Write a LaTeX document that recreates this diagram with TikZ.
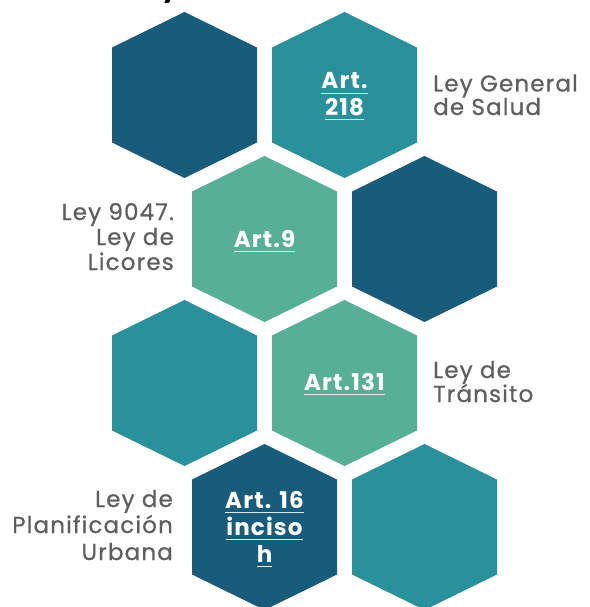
\documentclass[tikz,border=0pt]{standalone}
\usepackage{fontspec}
\setmainfont{Poppins}
\newfontfamily\labfont[LetterSpace=5,FakeBold=0.6]{Poppins}
\newfontfamily\artfont[LetterSpace=5]{Poppins}
\definecolor{hexdark}{HTML}{185B7A}
\definecolor{hexteal}{HTML}{29919C}
\definecolor{hexgreen}{HTML}{58B094}
\definecolor{labgray}{HTML}{5E5E5E}
\definecolor{ulc}{HTML}{D8ECEC}
\newcommand\hexfill[3]{\fill[#3] (#1,#2) ++(0,-83) -- ++(72.5,35.5) -- ++(0,95) -- ++(-72.5,35.5) -- ++(-72.5,-35.5) -- ++(0,-95) -- cycle;}
\newcommand\ulart[1]{\setbox0\hbox{#1}\rlap{\usebox0}\textcolor{ulc}{\rule[-5pt]{\wd0}{1.2pt}}}
\tikzset{
  lab/.style={text=labgray, font=\labfont\fontsize{23}{25}\selectfont, inner sep=0pt},
  art/.style={text=white, font=\artfont\fontsize{23}{25}\selectfont\bfseries, inner sep=0pt, anchor=base},
}
\begin{document}
\begin{tikzpicture}[x=1pt,y=-1pt]
\useasboundingbox (0,0) rectangle (589,607);
\fill[white] (0,0) rectangle (589,607);
\node[anchor=base, font=\fontsize{26}{26}\selectfont\bfseries, inner sep=0pt] (title) at (170,-3) {y};
% hexagons
\hexfill{184.5}{95}{hexdark}
\hexfill{344.5}{95}{hexteal}
\hexfill{264.5}{239}{hexgreen}
\hexfill{424.5}{239}{hexdark}
\hexfill{184.5}{383}{hexteal}
\hexfill{344.5}{383}{hexgreen}
\hexfill{264.5}{527}{hexdark}
\hexfill{424.5}{527}{hexteal}
% white labels
\node[art] (a218a) at (344.5,89) {\ulart{Art.}};
\node[art] (a218b) at (344.5,115) {\ulart{218}};
\node[art] (a9) at (264.5,247) {\ulart{Art.9}};
\node[art] (a131) at (344.5,390) {\ulart{Art.131}};
\node[art] (a16a) at (264.5,508) {\ulart{Art. 16}};
\node[art] (a16b) at (264.5,535) {\ulart{inciso}};
\node[art] (a16c) at (264.5,562) {\ulart{h}};
% gray labels
\node[lab, anchor=base west] (lg1) at (433,91.5) {Ley General};
\node[lab, anchor=base west] (lg2) at (433,115) {de Salud};
\node[lab, anchor=base east] (ll1) at (174,220) {Ley 9047.};
\node[lab, anchor=base east] (ll2) at (174,245) {Ley de};
\node[lab, anchor=base east] (ll3) at (174,270) {Licores};
\node[lab, anchor=base west] (lt1) at (433,378) {Ley de};
\node[lab, anchor=base west] (lt2) at (433,402) {Tránsito};
\node[lab, anchor=base east] (lp1) at (173,507) {Ley de};
\node[lab, anchor=base east] (lp2) at (173,533) {Planificación};
\node[lab, anchor=base east] (lp3) at (173,560) {Urbana};
\end{tikzpicture}
\end{document}
